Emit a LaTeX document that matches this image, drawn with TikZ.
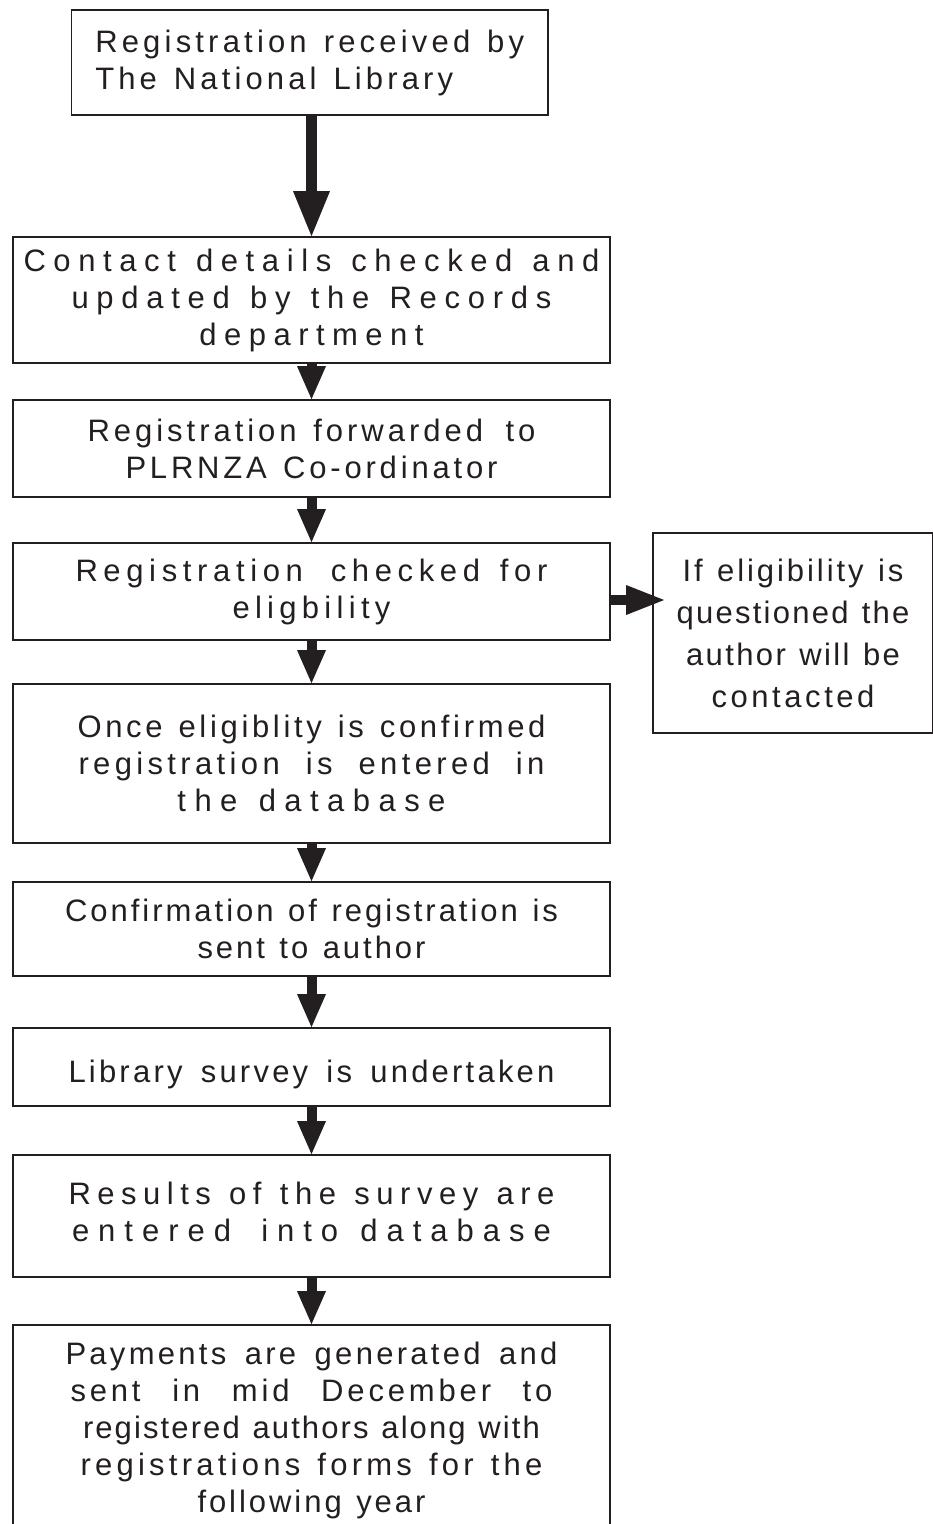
\documentclass[tikz,border=0pt]{standalone}
\usepackage{fontspec}
\setmainfont{Liberation Sans}
\usetikzlibrary{arrows.meta,calc}
\definecolor{ink}{HTML}{231F20}
\XeTeXinterchartoks 0 0 = {\hfil}
\newcommand\spr[3][2]{\hbox to #2pt{\XeTeXinterchartokenstate=1\relax\spaceskip=\fontdimen2\font plus #1fil\relax #3}}
\tikzset{
  box/.style={draw=ink, line width=1.8pt, rectangle, inner sep=0pt, align=center, text=ink,
    font=\fontsize{31}{37}\selectfont},
  arr/.style={draw=ink, line width=10pt, -{Triangle[length=33pt,width=29pt,line width=0pt]}},
}
\begin{document}
\begin{tikzpicture}[x=1pt,y=-1pt]
\useasboundingbox (0,0) rectangle (933,1524);
\clip (0,0) rectangle (933,1524);
\node[box, align=left, minimum width=476.5pt, minimum height=105pt] (n1) at (309.75,62.5)
  {\spr{429}{Registration received by}\\\spr{358}{The National Library}};
\node[box, minimum width=597pt, minimum height=126pt] (n2) at (311.5,300)
  {\spr[1.5]{576}{Contact details checked and}\\\spr[1.5]{480}{updated by the Records}\\\spr{224}{department}};
\node[box, minimum width=597pt, minimum height=97pt] (n3) at (311.5,448.5)
  {\spr{448}{Registration forwarded\hspace{6pt} to}\\\spr{372}{PLRNZA Co-ordinator}};
\node[box, minimum width=597pt, minimum height=97pt] (n4) at (311.5,591.5)
  {\spr{472}{Registration\hspace{8pt} checked for}\\\spr{158}{eligbility}};
\node[box, minimum width=280pt, minimum height=200pt, font=\fontsize{31}{42}\selectfont] (n5) at (793,633)
  {\spr{221}{If eligibility is}\\\spr{233}{questioned the}\\\spr{214}{author will be}\\\spr{163}{contacted}};
\node[box, minimum width=597pt, minimum height=159pt] (n6) at (311.5,763.5)
  {\spr{468}{Once eligiblity is confirmed}\\\spr[4]{466}{registration is entered in}\\\spr[1.5]{268}{the database}};
\node[box, minimum width=597pt, minimum height=94pt] (n7) at (311.5,929)
  {\spr{493}{Confirmation of registration is}\\\spr{228}{sent to author}};
\node[box, minimum width=597pt, minimum height=78pt, text height=30pt, text depth=0pt] (n8) at (311.5,1067)
  {\spr[3]{486}{Library survey is undertaken}};
\node[box, minimum width=597pt, minimum height=122pt] (n9) at (311.5,1216)
  {\spr[1.5]{486}{Results of the survey are}\\\spr[1.5]{479}{entered\hspace{8pt} into database}\rule[-9pt]{0pt}{1pt}};
\node[box, minimum width=597pt, minimum height=210pt] (n10) at (311.5,1430)
  {\spr[3]{492}{Payments are generated and}\\\spr[6]{482}{sent in mid December to}\\\spr{457}{registered authors along with}\\\spr{462}{registrations forms for the}\\\spr{228}{following year}};
\draw[arr, line width=10.7pt, -{Triangle[length=45pt,width=37pt,line width=0pt]}] (n1.south -| n2.north) -- (n2.north);
\draw[arr] (n2.south) -- (n3.north);
\draw[arr] (n3.south) -- (n4.north);
\draw[arr] (n4.south) -- (n6.north);
\draw[arr] (n6.south) -- (n7.north);
\draw[arr] (n7.south) -- (n8.north);
\draw[arr] (n8.south) -- (n9.north);
\draw[arr] (n9.south) -- (n10.north);
\draw[arr, -{Triangle[length=38pt,width=30pt,line width=0pt]}] ($(n4.east)+(0,8.5)$) -- ($(n4.east -| n5.west)+(12,8.5)$);
\end{tikzpicture}
\end{document}
